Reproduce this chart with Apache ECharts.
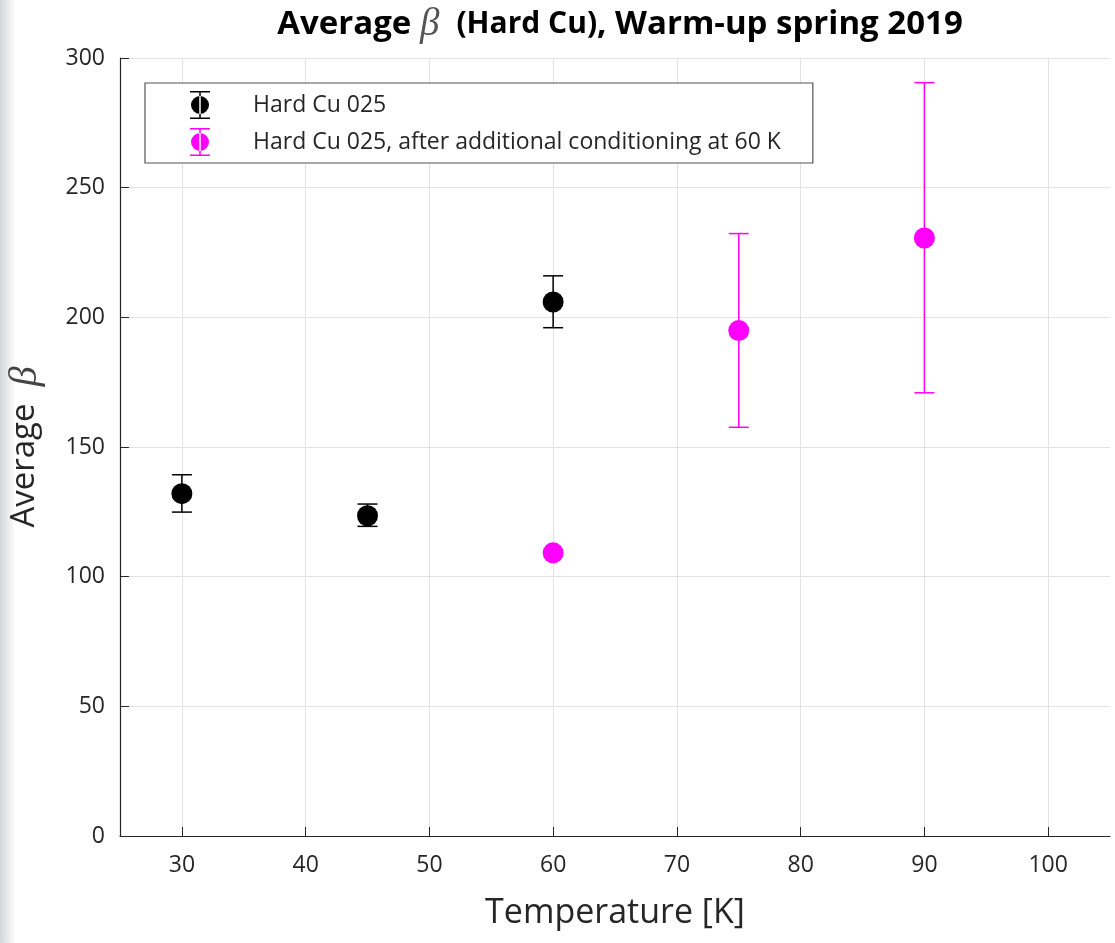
<!DOCTYPE html>
<html><head><meta charset="utf-8">
<script src="https://cdn.jsdelivr.net/npm/echarts@6/dist/echarts.min.js"></script>
<style>html,body{margin:0;padding:0;background:#fff}#c{width:1115px;height:943px}</style>
</head><body><div id="c"></div>
<script>
// Data
const xTicks = [30, 40, 50, 60, 70, 80, 90, 100];
const hardTemps = [30, 45, 60];
const hardBeta = [132.0, 123.5, 205.9];
const hardLow = [124.9, 119.4, 196.0];
const hardHigh = [139.3, 128.0, 216.0];
const condTemps = [60, 75, 90];
const condBeta = [109.2, 194.9, 230.6];
const condLow = [null, 157.6, 170.9];
const condHigh = [null, 232.3, 290.5];
const seriesNames = ['Hard Cu 025', 'Hard Cu 025, after additional conditioning at 60 K'];

const FONT = 'Open Sans';
const TXT = '#262626';
const legendIcon = 'path://M0,0H20V1.5H10.75V26.5H20V28H0V26.5H9.25V1.5H0Z M1,14a9,9 0 1,0 18,0a9,9 0 1,0 -18,0Z';

function pts(t, v) { return t.map((x, i) => [x, v[i]]); }
function bars(t, lo, hi) { return t.map((x, i) => [x, lo[i], hi[i]]).filter(d => d[1] != null); }

function errRender(color) {
  return function (params, api) {
    const x = api.value(0);
    const lo = api.coord([x, api.value(1)]);
    const hi = api.coord([x, api.value(2)]);
    const hw = 10;
    const st = { stroke: color, lineWidth: 1.5 };
    return {
      type: 'group',
      children: [
        { type: 'line', shape: { x1: lo[0], y1: lo[1], x2: hi[0], y2: hi[1] }, style: st },
        { type: 'line', shape: { x1: lo[0] - hw, y1: lo[1], x2: lo[0] + hw, y2: lo[1] }, style: st },
        { type: 'line', shape: { x1: hi[0] - hw, y1: hi[1], x2: hi[0] + hw, y2: hi[1] }, style: st }
      ]
    };
  };
}

const chart = echarts.init(document.getElementById('c'), null, { renderer: 'canvas' });
chart.setOption({
  backgroundColor: '#fff',
  animation: false,
  graphic: [{
    type: 'rect', left: 0, top: 0, shape: { width: 16, height: 943 }, z: -10,
    style: { fill: new echarts.graphic.LinearGradient(0, 0, 1, 0, [{ offset: 0, color: '#d3d6db' }, { offset: 1, color: '#ffffff' }]) }
  }],
  title: {
    text: '{a|Average }{b|β}{a|  }{c|(Hard Cu)}{a|, Warm-up spring 2019}',
    left: 615, top: 0, textAlign: 'center',
    textStyle: {
      rich: {
        a: { fontFamily: FONT, fontWeight: 'bold', fontSize: 33, color: '#000' },
        b: { fontFamily: 'Liberation Serif', fontStyle: 'italic', fontWeight: 'normal', fontSize: 39, color: '#555' },
        c: { fontFamily: FONT, fontWeight: 'bold', fontSize: 30, color: '#000' }
      }
    }
  },
  grid: { left: 120, right: 5, top: 58, bottom: 107, containLabel: false, outerBoundsMode: 'none' },
  legend: {
    orient: 'vertical', left: 145, top: 83,
    data: seriesNames,
    itemWidth: 20, itemHeight: 28, itemGap: 9,
    padding: [8, 32, 7, 45],
    borderColor: '#555', borderWidth: 1.2, backgroundColor: '#fff',
    icon: legendIcon,
    textStyle: { fontFamily: FONT, fontSize: 23, color: TXT, padding: [0, 0, 0, 38] }
  },
  xAxis: {
    type: 'value', min: 25, max: 105,
    name: 'Temperature [K]', nameLocation: 'middle', nameGap: 60,
    nameTextStyle: { fontFamily: FONT, fontSize: 34, color: TXT },
    axisLine: { show: true, onZero: false, lineStyle: { color: '#262626', width: 1.2 } },
    axisTick: { show: true, inside: true, length: 9, customValues: xTicks, lineStyle: { color: '#262626' } },
    axisLabel: { customValues: xTicks, fontFamily: FONT, fontSize: 23, color: TXT, margin: 18 },
    splitLine: { show: true, lineStyle: { color: '#e2e2e2', width: 1 } }
  },
  yAxis: {
    type: 'value', min: 0, max: 300, interval: 50,
    name: '{a|Average  }{b|β}', nameLocation: 'middle', nameGap: 75,
    nameTextStyle: {
      rich: {
        a: { fontFamily: FONT, fontSize: 33, color: TXT },
        b: { fontFamily: 'Liberation Serif', fontStyle: 'italic', fontSize: 40, color: '#444' }
      }
    },
    axisLine: { show: true, onZero: false, lineStyle: { color: '#262626', width: 1.2 } },
    axisTick: { show: true, inside: true, length: 9, lineStyle: { color: '#262626' } },
    axisLabel: { fontFamily: FONT, fontSize: 23, color: TXT, margin: 15 },
    splitLine: { show: true, lineStyle: { color: '#e2e2e2', width: 1 } }
  },
  series: [
    {
      name: seriesNames[0], type: 'custom', renderItem: errRender('#000'),
      data: bars(hardTemps, hardLow, hardHigh), itemStyle: { color: '#000' }, z: 2, silent: true
    },
    {
      name: seriesNames[0], type: 'scatter', symbol: 'circle', symbolSize: 21,
      data: pts(hardTemps, hardBeta), itemStyle: { color: '#000', opacity: 1 }, z: 3
    },
    {
      name: seriesNames[1], type: 'custom', renderItem: errRender('#ff00ff'),
      data: bars(condTemps, condLow, condHigh), itemStyle: { color: '#ff00ff' }, z: 2, silent: true
    },
    {
      name: seriesNames[1], type: 'scatter', symbol: 'circle', symbolSize: 21,
      data: pts(condTemps, condBeta), itemStyle: { color: '#ff00ff', opacity: 1 }, z: 3
    }
  ]
});
</script></body></html>
